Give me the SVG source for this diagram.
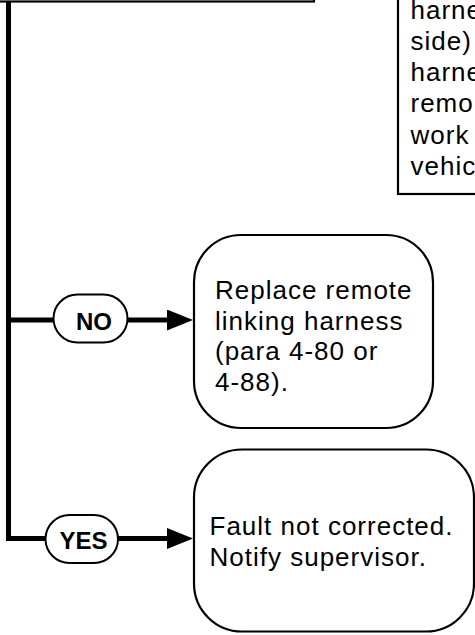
<svg xmlns="http://www.w3.org/2000/svg" width="475" height="635" viewBox="0 0 475 635">
<style>
.box{fill:#fff;stroke:#000;stroke-width:2.2}
.pill{fill:#fff;stroke:#000;stroke-width:2}
.txt{font-family:"Liberation Sans",Arial,Helvetica,sans-serif;font-size:26px;letter-spacing:1px;fill:#000}
.lbl{font-family:"Liberation Sans",Arial,Helvetica,sans-serif;font-size:24px;font-weight:bold;text-anchor:middle;fill:#000}
.conn{stroke:#000;stroke-width:5;fill:none}
</style>
<defs>
<marker id="arr" markerUnits="userSpaceOnUse" markerWidth="26" markerHeight="21" refX="13" refY="10.5" orient="auto">
<path d="M0,0 L26,10.5 L0,21 z" fill="#000"/>
</marker>
</defs>
<rect width="475" height="635" fill="#fff"/>
<g id="connectors">
<path class="conn" d="M8.5,0 V538.5 H46"/>
<path class="conn" d="M8.5,320 H54"/>
<path class="conn" d="M127,320 H180" marker-end="url(#arr)"/>
<path class="conn" d="M118,538.5 H180" marker-end="url(#arr)"/>
</g>
<g id="node-top">
<rect class="box" x="-10" y="-50" width="324" height="51.5"/>
</g>
<g id="node-right">
<rect class="box" x="398" y="-50" width="100" height="244"/>
<text class="txt" x="410.5" y="18.5">harne</text>
<text class="txt" x="410.5" y="49.8">side)</text>
<text class="txt" x="410.5" y="81.1">harne</text>
<text class="txt" x="410.5" y="112.4">remo</text>
<text class="txt" x="410.5" y="143.7">work</text>
<text class="txt" x="410.5" y="175">vehic</text>
</g>
<g id="label-no">
<rect class="pill" x="53.5" y="294.5" width="74" height="48" rx="24"/>
<text class="lbl" x="94" y="329.5">NO</text>
</g>
<g id="node-replace">
<rect class="box" x="194" y="235" width="239" height="193" rx="47"/>
<text class="txt" x="215" y="299">Replace remote</text>
<text class="txt" x="215" y="329.5">linking harness</text>
<text class="txt" x="215" y="360">(para 4-80 or</text>
<text class="txt" x="215" y="390.5">4-88).</text>
</g>
<g id="label-yes">
<rect class="pill" x="45.5" y="515" width="72.5" height="48" rx="24"/>
<text class="lbl" x="83.5" y="549.3">YES</text>
</g>
<g id="node-fault">
<rect class="box" x="194" y="449.5" width="280" height="182" rx="48"/>
<text class="txt" x="209.5" y="534.5">Fault not corrected.</text>
<text class="txt" x="209.5" y="566">Notify supervisor.</text>
</g>
</svg>
